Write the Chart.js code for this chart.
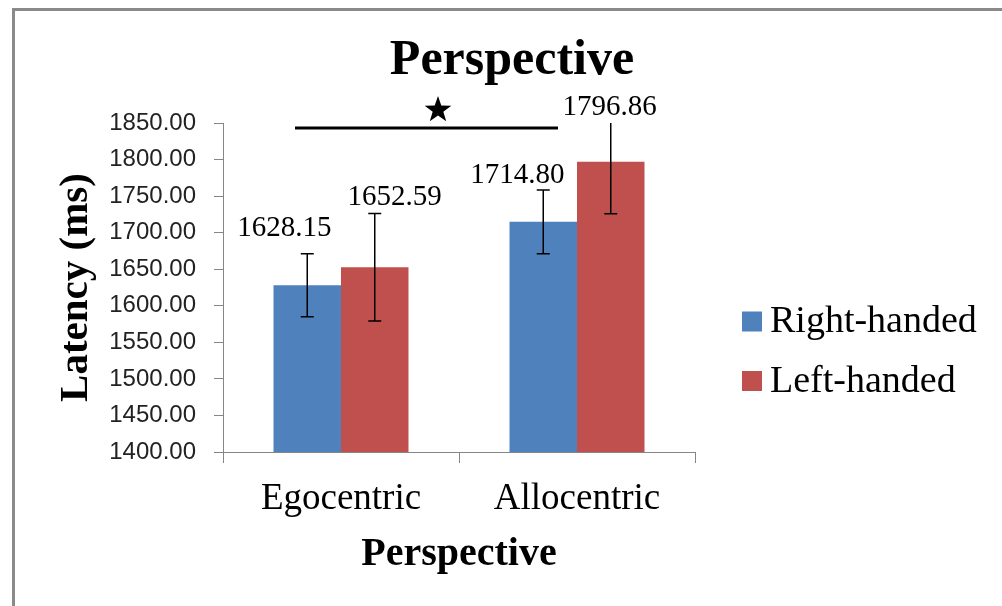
<!DOCTYPE html>
<html lang="en">
<head>
<meta charset="UTF-8">
<title>Perspective</title>
<style>
  html, body { margin: 0; padding: 0; background: #fff; }
  #wrap { width: 1002px; height: 606px; }
</style>
</head>
<body>
<div id="wrap"><canvas id="myChart" width="1002" height="606"></canvas></div>
<script src="https://cdn.jsdelivr.net/npm/chart.js"></script>
<script>
// data
const categories = ['Egocentric', 'Allocentric'];
const seriesNames = ['Right-handed', 'Left-handed'];
const rightHanded = [1628.15, 1714.80];
const leftHanded = [1652.59, 1796.86];
const rightErr = [43, 43.5];
const leftErr = [73.5, 71];
const yTicks = [1400, 1450, 1500, 1550, 1600, 1650, 1700, 1750, 1800, 1850];
const seriesColors = ['#4F81BD', '#C0504D'];

const serif = 'Liberation Serif, Times New Roman, serif';
const axisGrey = '#868686';

// little hand-placed offsets for value labels (like the dragged excel labels)
const labelShift = [[[-23, -25], [-26, -15]], [[20, -16], [-1, -16]]];

const extras = {
  id: 'extras',
  beforeDraw(chart) {
    const c = chart.ctx;
    c.save();
    c.fillStyle = '#fff';
    c.fillRect(0, 0, chart.width, chart.height);
    // frame (only top + left visible in the crop)
    c.strokeStyle = '#8a8a8a';
    c.lineWidth = 3;
    c.beginPath();
    c.moveTo(13.5, chart.height);
    c.lineTo(13.5, 9.5);
    c.lineTo(chart.width, 9.5);
    c.stroke();
    c.restore();
  },
  afterDatasetsDraw(chart) {
    const c = chart.ctx;
    const ys = chart.scales.y, xs = chart.scales.x;
    const area = chart.chartArea;
    const errs = [rightErr, leftErr];
    c.save();
    // error bars
    chart.data.datasets.forEach((ds, di) => {
      const meta = chart.getDatasetMeta(di);
      meta.data.forEach((bar, i) => {
        const v = ds.data[i], e = errs[di][i];
        let top = ys.getPixelForValue(v + e);
        const bot = ys.getPixelForValue(v - e);
        const x = bar.x;
        c.strokeStyle = '#000';
        c.lineWidth = 1.5;
        c.beginPath();
        const clipped = top < area.top;
        if (clipped) top = area.top;
        c.moveTo(x, top); c.lineTo(x, bot);
        if (!clipped) { c.moveTo(x - 6.5, top); c.lineTo(x + 6.5, top); }
        c.moveTo(x - 6.5, bot); c.lineTo(x + 6.5, bot);
        c.stroke();
        // value label
        const sh = labelShift[di][i];
        c.fillStyle = '#000';
        c.font = '29px ' + serif;
        c.textAlign = 'center';
        c.textBaseline = 'middle';
        c.fillText(v.toFixed(2), x + sh[0], top + sh[1]);
      });
    });
    // significance line + star
    const lx1 = xs.getPixelForValue(0) - 46;
    const lx2 = xs.getPixelForValue(1) - 19;
    const ly = area.top + 5;
    c.strokeStyle = '#000';
    c.lineWidth = 3;
    c.beginPath();
    c.moveTo(lx1, ly); c.lineTo(lx2, ly);
    c.stroke();
    const cx = 438, cy = 110, R = 14, r = 5.6;
    c.beginPath();
    for (let k = 0; k < 10; k++) {
      const rad = k % 2 ? r : R;
      const a = -Math.PI / 2 + k * Math.PI / 5;
      const px = cx + rad * Math.cos(a), py = cy + rad * Math.sin(a);
      k ? c.lineTo(px, py) : c.moveTo(px, py);
    }
    c.closePath();
    c.fillStyle = '#000';
    c.fill();
    // main title
    c.font = 'bold 50px ' + serif;
    c.textAlign = 'center';
    c.textBaseline = 'middle';
    c.fillText('Perspective', 512, 61);
    // legend
    c.font = '38px ' + serif;
    c.textAlign = 'left';
    chart.data.datasets.forEach((ds, di) => {
      const yy = 321.5 + di * 59.5;
      c.fillStyle = ds.backgroundColor;
      c.fillRect(742, yy - 10, 20, 20);
      c.fillStyle = '#000';
      c.fillText(ds.label, 770, yy + 1);
    });
    c.restore();
  }
};

new Chart(document.getElementById('myChart'), {
  type: 'bar',
  data: {
    labels: categories,
    datasets: [
      { label: seriesNames[0], data: rightHanded, backgroundColor: seriesColors[0], borderWidth: 0 },
      { label: seriesNames[1], data: leftHanded, backgroundColor: seriesColors[1], borderWidth: 0 }
    ]
  },
  options: {
    responsive: false,
    animation: false,
    devicePixelRatio: 1,
    layout: { padding: { top: 123, right: 307, bottom: 0, left: 0 } },
    datasets: { bar: { categoryPercentage: 0.572, barPercentage: 1 } },
    plugins: {
      legend: { display: false },
      title: { display: false },
      tooltip: { enabled: false }
    },
    scales: {
      y: {
        min: 1400,
        max: 1850,
        afterBuildTicks: s => { s.ticks = yTicks.map(v => ({ value: v })); },
        afterFit: s => { s.width = 223; },
        ticks: {
          callback: v => Number(v).toFixed(2),
          font: { family: 'Liberation Sans, Arial, sans-serif', size: 24 },
          color: '#222',
          padding: 18
        },
        grid: { drawOnChartArea: false, drawTicks: true, tickLength: 9, color: axisGrey },
        border: { display: true, color: axisGrey },
        title: {
          display: true,
          text: 'Latency (ms)',
          color: '#000',
          font: { family: serif, size: 41, weight: 'bold' },
          padding: { top: 52, bottom: 0 }
        }
      },
      x: {
        afterFit: s => { s.height = 154; },
        ticks: {
          font: { family: serif, size: 37 },
          color: '#000',
          padding: 14
        },
        grid: { drawOnChartArea: false, drawTicks: true, tickLength: 11, color: axisGrey, offset: true },
        border: { display: true, color: axisGrey },
        title: {
          display: true,
          text: 'Perspective',
          color: '#000',
          font: { family: serif, size: 40, weight: 'bold' },
          padding: { top: 0, bottom: 27 }
        }
      }
    }
  },
  plugins: [extras]
});
</script>
</body>
</html>
